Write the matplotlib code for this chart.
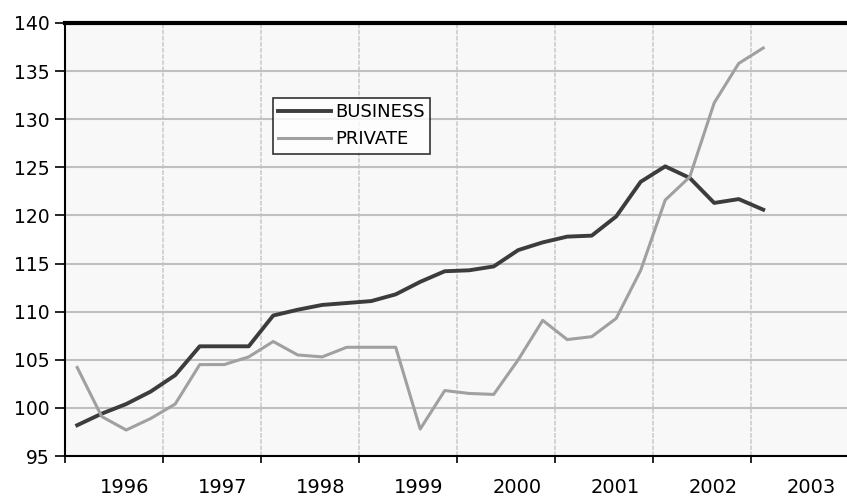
import matplotlib.pyplot as plt
from matplotlib.ticker import FixedLocator, NullFormatter

# quarterly index values, 29 quarters
business = [98.2, 99.4, 100.4, 101.7, 103.4, 106.4, 106.4, 106.4, 109.6, 110.2,
            110.7, 110.9, 111.1, 111.8, 113.1, 114.2, 114.3, 114.7, 116.4, 117.2,
            117.8, 117.9, 119.9, 123.5, 125.1, 123.9, 121.3, 121.7, 120.6]
private = [104.2, 99.1, 97.7, 98.9, 100.4, 104.5, 104.5, 105.3, 106.9, 105.5,
           105.3, 106.3, 106.3, 106.3, 97.8, 101.8, 101.5, 101.4, 105.0, 109.1,
           107.1, 107.4, 109.3, 114.3, 121.6, 124.0, 131.7, 135.8, 137.4]
years = ["1996", "1997", "1998", "1999", "2000", "2001", "2002", "2003"]

plt.rcParams['font.family'] = ['DejaVu Sans']

fig = plt.figure(figsize=(8.47, 5), dpi=100)
ax = fig.add_axes([0.0767, 0.088, 0.9233, 0.866])
ax.set_facecolor("#f8f8f8")

x = [i + 0.5 for i in range(len(business))]
ax.plot(x, business, color="#3c3c3c", linewidth=2.8, label="BUSINESS", zorder=3)
ax.plot(x, private, color="#a0a0a0", linewidth=2.2, label="PRIVATE", zorder=3)

ax.set_xlim(0, 31.92)
ax.set_ylim(95, 140)
ax.set_yticks(range(95, 141, 5))

ax.xaxis.set_major_locator(FixedLocator(range(0, 29, 4)))
ax.xaxis.set_major_formatter(NullFormatter())
ax.xaxis.set_minor_locator(FixedLocator([4 * k + 2.45 for k in range(len(years))]))
ax.set_xticklabels(years, minor=True)
ax.tick_params(axis="x", which="major", direction="out", length=5, width=1.2)
ax.tick_params(axis="x", which="minor", length=0, pad=16, labelsize=14)
ax.tick_params(axis="y", direction="out", length=7, width=1.2, pad=4, labelsize=13.5)

ax.grid(axis="y", color="#c0c0c0", linewidth=1.5, linestyle="-", zorder=0)
ax.grid(axis="x", which="major", color="#c8c8c8", linewidth=1.1, linestyle=(0, (3, 1)), zorder=0)

ax.spines["top"].set_linewidth(3)
ax.spines["left"].set_linewidth(1.5)
ax.spines["bottom"].set_linewidth(1.5)
ax.spines["right"].set_visible(False)

leg = ax.legend(loc="upper left", bbox_to_anchor=(0.266, 0.827), fontsize=13,
                frameon=True, fancybox=False, edgecolor="black", handlelength=2.9,
                handletextpad=0.25, borderpad=0.3, labelspacing=0.5,
                borderaxespad=0)
leg.get_frame().set_linewidth(1.2)
leg.get_frame().set_facecolor("white")

fig.savefig("out.png", dpi=100)
